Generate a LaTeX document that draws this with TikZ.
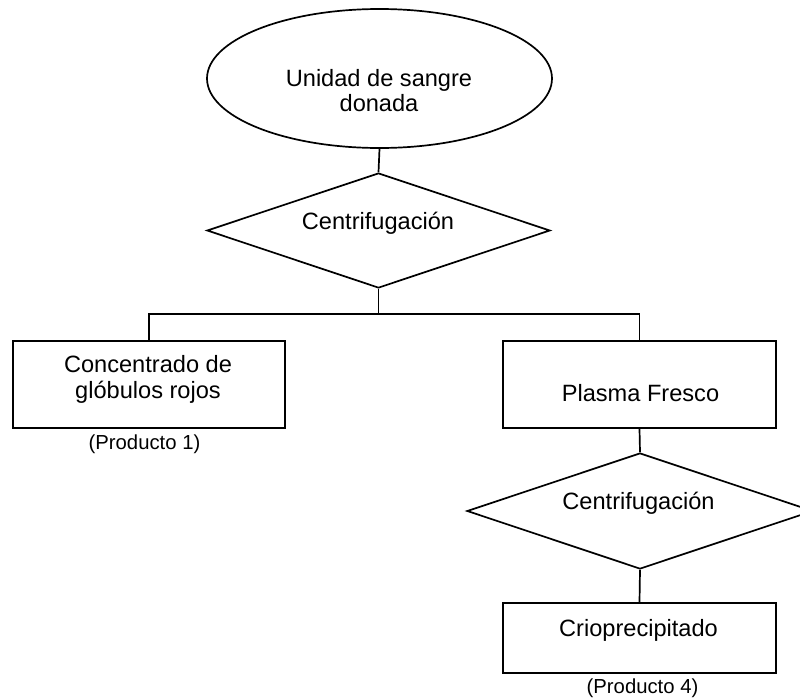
\documentclass[tikz,border=0pt]{standalone}
\usepackage{fontspec}
\setmainfont{Liberation Sans}
\usetikzlibrary{shapes.geometric}

\tikzset{
  shapeline/.style={draw=black, line width=1.7pt, fill=white, inner sep=0pt},
  ovalbox/.style={shapeline, ellipse},
  decisionbox/.style={shapeline, diamond},
  stepbox/.style={shapeline, rectangle},
  link/.style={draw=black, line width=1.7pt},
  txt/.style={inner sep=0pt, anchor=base, font=\fontsize{23.6}{25.5}\selectfont},
  smalltxt/.style={inner sep=0pt, anchor=base, font=\fontsize{20.3}{22}\selectfont}
}

\begin{document}
\begin{tikzpicture}[x=1pt, y=-1pt]
  \useasboundingbox (0,0) rectangle (800,699);
  \fill[white] (0,0) rectangle (800,699);
  \clip (0,0) rectangle (800,699);

  % shapes
  \node[ovalbox, minimum width=345pt, minimum height=139pt] (ell) at (379.5,78.5) {};
  \node[decisionbox, minimum width=343pt, minimum height=115pt] (d1) at (378.5,230.5) {};
  \node[stepbox, minimum width=272pt, minimum height=87pt] (b1) at (149,384.5) {};
  \node[stepbox, minimum width=273pt, minimum height=87pt] (b2) at (639.5,384.5) {};
  \node[decisionbox, minimum width=346pt, minimum height=116pt] (d2) at (640,511) {};
  \node[stepbox, minimum width=273pt, minimum height=70pt] (b3) at (639.5,638) {};

  % connectors
  \coordinate (jr) at (639.5,314);
  \draw[link] (ell.south) -- (d1.north);
  \draw[link] (d1.south) -- (d1.south |- jr);
  \draw[link] (b1.north) |- (jr) -- (b2.north);
  \draw[link] (b2.south) -- (d2.north);
  \draw[link] (d2.south) -- (b3.north);

  % labels
  \node[txt] (t1a) at (379,86.7) {Unidad de sangre};
  \node[txt] (t1b) at (379,111.7) {donada};
  \node[txt] (t2) at (378,229) {Centrifugación};
  \node[txt] (t3a) at (148,372.7) {Concentrado de};
  \node[txt] (t3b) at (148,398.3) {glóbulos rojos};
  \node[smalltxt] (p1) at (144.5,449.3) {(Producto 1)};
  \node[txt] (t4) at (640.5,401) {Plasma Fresco};
  \node[txt] (t5) at (638.5,509) {Centrifugación};
  \node[txt] (t6) at (638.5,636) {Crioprecipitado};
  \node[smalltxt] (p4) at (642.5,693) {(Producto 4)};
\end{tikzpicture}
\end{document}
